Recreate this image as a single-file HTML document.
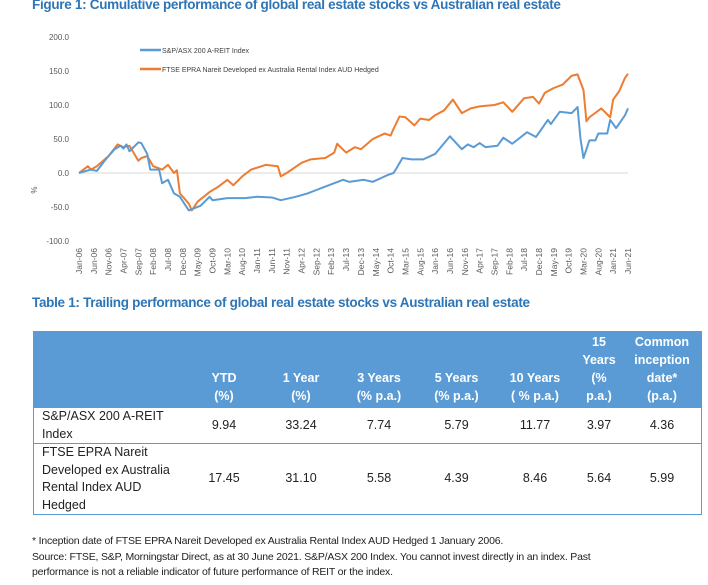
<!DOCTYPE html>
<html><head><meta charset="utf-8">
<style>
body{margin:0;width:708px;height:585px;background:#fff;font-family:"Liberation Sans",sans-serif;overflow:hidden;position:relative}
.ttl{position:absolute;left:32px;color:#2E75B6;font-weight:bold;font-size:13.5px;letter-spacing:-0.3px}
table{position:absolute;left:33px;top:331px;width:669px;border-collapse:collapse;font-size:12.5px;color:#222}
th{background:#5B9BD5;color:#fff;font-weight:bold;line-height:18px;padding:1px 0 2px 0;vertical-align:bottom;text-align:center}
td{border-top:1px solid #5B9BD5;border-bottom:1px solid #5B9BD5;line-height:17.5px;text-align:center;padding:0}
td.n{text-align:left;padding-left:8px}
table{border:1px solid #5B9BD5}
.fn{position:absolute;left:32px;font-size:10.5px;color:#222;letter-spacing:-0.2px}
</style></head><body>
<div class="ttl" style="top:-3px">Figure 1: Cumulative performance of global real estate stocks vs Australian real estate</div>
<svg id="chart" width="708" height="300" style="position:absolute;left:0;top:0"></svg>
<div class="ttl" style="top:295px">Table 1: Trailing performance of global real estate stocks vs Australian real estate</div>
<table>
<tr><th style="width:152px"></th><th style="width:76px">YTD<br>(%)</th><th style="width:78px">1 Year<br>(%)</th><th style="width:78px">3 Years<br>(% p.a.)</th><th style="width:77px">5 Years<br>(% p.a.)</th><th style="width:80px">10 Years<br>( % p.a.)</th><th style="width:48px">15<br>Years<br>(%<br>p.a.)</th><th>Common<br>inception<br>date*<br>(p.a.)</th></tr>
<tr><td class="n">S&amp;P/ASX 200 A-REIT<br>Index</td><td>9.94</td><td>33.24</td><td>7.74</td><td>5.79</td><td>11.77</td><td>3.97</td><td>4.36</td></tr>
<tr><td class="n">FTSE EPRA Nareit<br>Developed ex Australia<br>Rental Index AUD<br>Hedged</td><td>17.45</td><td>31.10</td><td>5.58</td><td>4.39</td><td>8.46</td><td>5.64</td><td>5.99</td></tr>
</table>
<div class="fn" style="top:535px">* Inception date of FTSE EPRA Nareit Developed ex Australia Rental Index AUD Hedged 1 January 2006.</div>
<div class="fn" style="top:550px;line-height:14.5px">Source: FTSE, S&amp;P, Morningstar Direct, as at 30 June 2021. S&amp;P/ASX 200 Index. You cannot invest directly in an index. Past<br>performance is not a reliable indicator of future performance of REIT or the index.</div>
<script>
const yTicks=[200,150,100,50,0,-50,-100];
const xLabels=["Jan-06","Jun-06","Nov-06","Apr-07","Sep-07","Feb-08","Jul-08","Dec-08","May-09","Oct-09","Mar-10","Aug-10","Jan-11","Jun-11","Nov-11","Apr-12","Sep-12","Feb-13","Jul-13","Dec-13","May-14","Oct-14","Mar-15","Aug-15","Jan-16","Jun-16","Nov-16","Apr-17","Sep-17","Feb-18","Jul-18","Dec-18","May-19","Oct-19","Mar-20","Aug-20","Jan-21","Jun-21"];
const asxMonths=[0,4,6,9,12,14,15,16,17,20,21,23,24,27,28,30,32,34,37,41,44,45,50,56,60,65,68,73,77,80,83,89,91,96,99,102,104,106,107,109,112,116,120,125,129,131,133,135,137,141,143,146,151,154,158,159,162,166,168,169,170,172,174,175,178,179,181,184,185];
const asxValues=[0,5,3,20,35,40,36,42,32,45,44,28,5,5,-15,-10,-30,-35,-55,-48,-35,-40,-37,-37,-35,-36,-40,-35,-30,-25,-20,-10,-13,-10,-13,-7,-3,0,7,22,20,20,28,54,35,42,38,44,38,40,52,43,60,53,78,72,90,88,97,50,22,48,48,58,58,78,66,85,95];
const ftseMonths=[0,3,4,6,10,13,15,17,20,21,23,25,28,30,32,33,34,36,37,38,40,44,47,50,52,55,58,63,67,68,70,75,78,83,86,87,90,93,95,99,103,105,106,108,110,113,115,118,120,123,126,129,132,135,140,143,146,150,153,155,157,160,163,166,168,170,171,172,176,179,180,182,184,185];
const ftseValues=[0,10,5,10,25,42,38,40,18,22,25,10,5,12,0,4,-30,-40,-45,-55,-42,-28,-20,-10,-18,-5,5,12,10,-5,0,15,20,22,30,43,30,38,35,50,58,55,65,83,82,70,80,78,85,92,108,88,95,98,100,104,90,110,112,102,118,125,130,143,145,122,76,82,95,82,108,120,140,146];
const svg=document.getElementById('chart');const NS='http://www.w3.org/2000/svg';
const X0=79,X1=628,NM=185;
const xS=m=>X0+(X1-X0)*m/NM;
const yS=v=>173-v*34/50;
function el(t,a){const e=document.createElementNS(NS,t);for(const k in a)e.setAttribute(k,a[k]);svg.appendChild(e);return e;}
const ax=el('line',{x1:X0,x2:X1,y1:yS(0),y2:yS(0),stroke:'#d9d9d9','stroke-width':1});


yTicks.forEach(v=>{const t=el('text',{x:69,y:yS(v)+3,'text-anchor':'end','font-size':'8','fill':'#595959','font-family':'Liberation Sans'});t.textContent=v.toFixed(1);

});
const yt=el('text',{x:0,y:0,'font-size':'8','fill':'#595959',transform:'translate(37,190) rotate(-90)','text-anchor':'middle'});yt.textContent='%';


xLabels.forEach((l,i)=>{const x=xS(i*5);const t=el('text',{x:0,y:0,'font-size':'8.5','fill':'#595959','text-anchor':'end',transform:`translate(${x+3},248) rotate(-90)`});t.textContent=l;

});
function line(ms,vs,c,n){const p=el('polyline',{points:ms.map((m,i)=>xS(m)+','+yS(vs[i])).join(' '),fill:'none',stroke:c,'stroke-width':2,'stroke-linejoin':'round'});

}
line(ftseMonths,ftseValues,'#ED7D31','ftse-line');
line(asxMonths,asxValues,'#5B9BD5','asx-line');
[['#5B9BD5','S&P/ASX 200 A-REIT Index',50],['#ED7D31','FTSE EPRA Nareit Developed ex Australia Rental Index AUD Hedged',69]].forEach(([c,t,y])=>{
const l=el('line',{x1:140,x2:161,y1:y,y2:y,stroke:c,'stroke-width':2.5});


const tx=el('text',{x:162,y:y+3,'font-size':'7','fill':'#404040'});tx.textContent=t;

});
</script>
</body></html>
